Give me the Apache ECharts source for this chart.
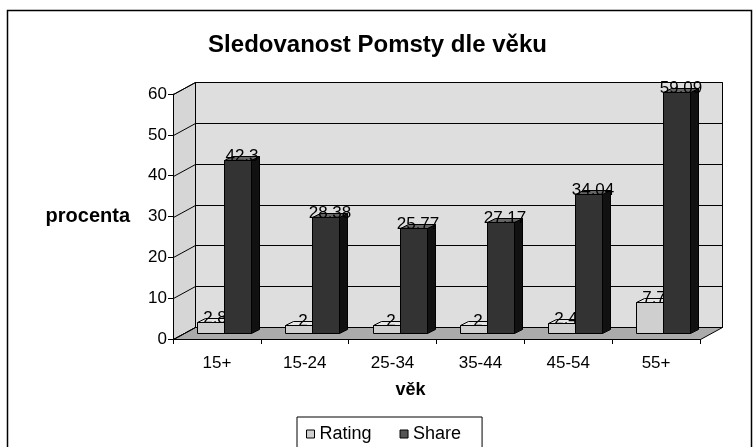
<!DOCTYPE html>
<html>
<head>
<meta charset="utf-8">
<title>Sledovanost Pomsty dle věku</title>
<script src="https://cdn.jsdelivr.net/npm/echarts@6.0.0/dist/echarts.min.js"></script>
<style>
  html, body { margin: 0; padding: 0; background: #fff; }
  #chart { width: 755px; height: 447px; }
</style>
</head>
<body>
<div id="chart"></div>
<script>
// data
var categories = ['15+', '15-24', '25-34', '35-44', '45-54', '55+'];
var rating = [2.8, 2, 2, 2, 2.4, 7.7];
var share = [42.3, 28.38, 25.77, 27.17, 34.04, 59.09];
var yTicks = [0, 10, 20, 30, 40, 50, 60];

var FONT = '"Liberation Sans", Arial, sans-serif';
// hloubka steny (3D) a posun / hloubka sloupcu
var DX = 22, DY = 12;
var OX = 7, OY = -6;
var BX = 8, BY = -4;

function crisp(v) { return Math.round(v) + 0.5; }

// steny, podlaha a mrizka
function renderWalls(params, api) {
  var cs = params.coordSys;
  var x0 = crisp(cs.x), x1 = crisp(cs.x + cs.width);
  var yb = crisp(api.coord([0, 0])[1]);
  var yt = crisp(api.coord([0, yTicks[yTicks.length - 1]])[1]);
  var kids = [];
  kids.push({ type: 'polygon', shape: { points: [[x0 + DX, yb - DY], [x1 + DX, yb - DY], [x1 + DX, yt - DY], [x0 + DX, yt - DY]] },
    style: { fill: '#dedede', stroke: '#000', lineWidth: 1 } });
  kids.push({ type: 'polygon', shape: { points: [[x0, yb], [x0 + DX, yb - DY], [x0 + DX, yt - DY], [x0, yt]] },
    style: { fill: '#d6d6d6', stroke: '#000', lineWidth: 1 } });
  kids.push({ type: 'polygon', shape: { points: [[x0, yb], [x1, yb], [x1 + DX, yb - DY], [x0 + DX, yb - DY]] },
    style: { fill: '#ababab', stroke: '#000', lineWidth: 1 } });
  yTicks.forEach(function (v) {
    var y = crisp(api.coord([0, v])[1]);
    kids.push({ type: 'line', shape: { x1: x0, y1: y, x2: x0 + DX, y2: y - DY }, style: { stroke: '#000', lineWidth: 1 } });
    kids.push({ type: 'line', shape: { x1: x0 + DX, y1: y - DY, x2: x1 + DX, y2: y - DY }, style: { stroke: '#000', lineWidth: 1 } });
  });
  return { type: 'group', children: kids };
}

// 3D sloupec: predni stena, vrch, bok + popisek
function makeBar(side, front, top, right) {
  return function (params, api) {
    var cat = api.value(0), v = api.value(1);
    var c = api.coord([cat, v]);
    var base = api.coord([cat, 0]);
    var band = api.size([1, 0])[0];
    var w = Math.round(band * 0.31);
    var x = Math.round(c[0] + (side === 0 ? -w : 0) + OX) + 0.5;
    var yTop = Math.round(c[1] + OY) + 0.5;
    var yBot = Math.round(base[1] + OY) + 0.5;
    var st = { stroke: '#000', lineWidth: 1 };
    return {
      type: 'group',
      children: [
        { type: 'polygon', shape: { points: [[x + w, yBot], [x + w + BX, yBot + BY], [x + w + BX, yTop + BY], [x + w, yTop]] },
          style: Object.assign({ fill: right }, st) },
        { type: 'polygon', shape: { points: [[x, yTop], [x + w, yTop], [x + w + BX, yTop + BY], [x + BX, yTop + BY]] },
          style: Object.assign({ fill: top }, st) },
        { type: 'rect', shape: { x: x, y: yTop, width: w, height: yBot - yTop },
          style: Object.assign({ fill: front }, st) },
        { type: 'text', z2: 10, style: { text: String(v), x: x + (w + BX) / 2, y: yTop - 4,
          align: 'center', verticalAlign: 'middle', font: '17px ' + FONT, fill: '#000' } }
      ]
    };
  };
}

var chart = echarts.init(document.getElementById('chart'));

chart.setOption({
  backgroundColor: '#fff',
  animation: false,
  title: {
    text: 'Sledovanost Pomsty dle věku',
    left: 'center',
    top: 28,
    textStyle: { fontFamily: FONT, fontSize: 24, fontWeight: 'bold', color: '#000' }
  },
  legend: {
    left: 297,
    top: 417,
    orient: 'horizontal',
    padding: [8, 21, 8, 9],
    borderColor: '#000',
    borderWidth: 1,
    itemWidth: 8,
    itemHeight: 8,
    itemGap: 28,
    textStyle: { fontFamily: FONT, fontSize: 18, color: '#000' },
    data: [
      { name: 'Rating', icon: 'rect', itemStyle: { color: '#cfcfcf', borderColor: '#000', borderWidth: 1 } },
      { name: 'Share', icon: 'rect', itemStyle: { color: '#555', borderColor: '#000', borderWidth: 1 } }
    ]
  },
  grid: { left: 173, right: 55, top: 94, bottom: 108 },
  xAxis: {
    type: 'category',
    data: categories,
    z: 5,
    name: 'věk',
    nameLocation: 'middle',
    nameGap: 42,
    nameTextStyle: { fontFamily: FONT, fontSize: 18, fontWeight: 'bold', color: '#000', padding: [0, 52, 0, 0] },
    axisLine: { lineStyle: { color: '#000', width: 1 } },
    axisTick: { show: true, length: 5, lineStyle: { color: '#000' } },
    axisLabel: { margin: 16, fontFamily: FONT, fontSize: 17, color: '#000' },
    splitLine: { show: false }
  },
  yAxis: {
    type: 'value',
    min: 0,
    max: 60,
    interval: 10,
    z: 5,
    name: 'procenta',
    nameLocation: 'middle',
    nameRotate: 0,
    nameGap: 43,
    nameTextStyle: { fontFamily: FONT, fontSize: 20, fontWeight: 'bold', color: '#000' },
    axisLine: { show: true, lineStyle: { color: '#000', width: 1 } },
    axisTick: { show: true, length: 5, lineStyle: { color: '#000' } },
    axisLabel: { margin: 6, fontFamily: FONT, fontSize: 17, color: '#000' },
    splitLine: { show: false }
  },
  graphic: [
    { type: 'rect', silent: true, shape: { x: 7.5, y: 10.5, width: 744, height: 460 },
      style: { fill: 'none', stroke: '#000', lineWidth: 1.5 } }
  ],
  series: [
    { type: 'custom', z: 1, silent: true, clip: false, data: [[0, 0]], renderItem: renderWalls },
    { type: 'custom', name: 'Rating', z: 3, clip: false, itemStyle: { color: '#cfcfcf' },
      data: rating.map(function (v, i) { return [i, v]; }),
      renderItem: makeBar(0, '#cfcfcf', '#e6e6e6', '#9a9a9a') },
    { type: 'custom', name: 'Share', z: 4, clip: false, itemStyle: { color: '#555' },
      data: share.map(function (v, i) { return [i, v]; }),
      renderItem: makeBar(1, '#333333', '#666666', '#111111') }
  ]
});
</script>
</body>
</html>
